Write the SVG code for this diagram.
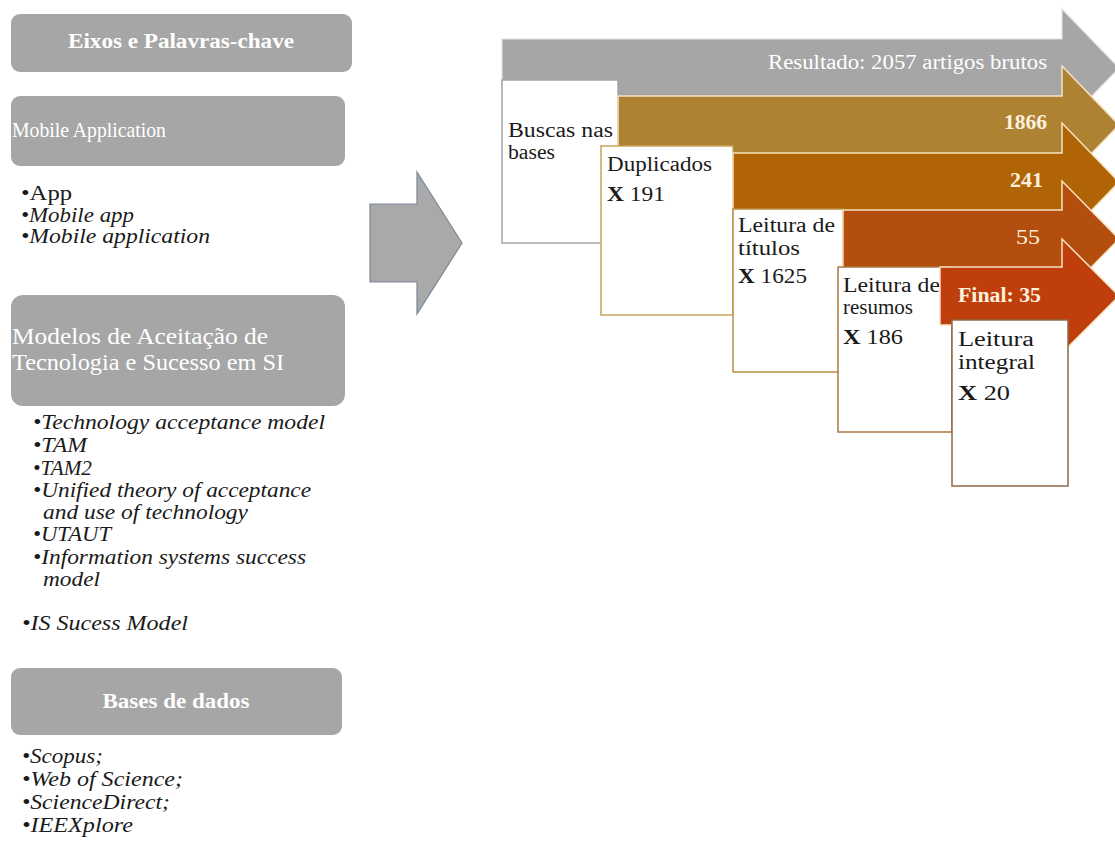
<svg xmlns="http://www.w3.org/2000/svg" width="1115" height="847" viewBox="0 0 1115 847">
  <style>
    .t { font-family: "Liberation Serif", "Times New Roman", serif; font-size: 20.5px; fill: #1a1a1a; }
    .i { font-style: italic; }
    .b { font-weight: bold; }
    .w { fill: #ffffff; }
    .c { fill: #fdf0dc; }
    .hdr { fill: #a6a6a6; }
    .card { fill: #ffffff; stroke-width: 1.5; }
    .band { stroke: #f6e2c0; stroke-width: 1.5; }
  </style>

  <rect width="1115" height="847" fill="#ffffff"/>

  <!-- left column: axes and keywords -->
  <g id="node-eixos">
    <rect class="hdr" x="11" y="14" width="341" height="58" rx="9"/>
    <text class="t b w" x="181" y="48" text-anchor="middle" textLength="226" lengthAdjust="spacingAndGlyphs">Eixos e Palavras-chave</text>
  </g>

  <g id="node-mobile">
    <rect class="hdr" x="11" y="96" width="334" height="70" rx="9"/>
    <text class="t w" x="12" y="137" style="font-size:21.5px" textLength="154" lengthAdjust="spacingAndGlyphs">Mobile Application</text>
  </g>
  <g id="list-mobile">
    <text class="t" x="21" y="200" textLength="51" lengthAdjust="spacingAndGlyphs">•App</text>
    <text class="t i" x="21" y="221.5" textLength="113" lengthAdjust="spacingAndGlyphs">•Mobile app</text>
    <text class="t i" x="21" y="243" textLength="189" lengthAdjust="spacingAndGlyphs">•Mobile application</text>
  </g>

  <g id="node-modelos">
    <rect class="hdr" x="11" y="295" width="334" height="111" rx="12"/>
    <text class="t w" x="12" y="344" style="font-size:23px" textLength="256" lengthAdjust="spacingAndGlyphs">Modelos de Aceitação de</text>
    <text class="t w" x="12" y="370" style="font-size:23px" textLength="272" lengthAdjust="spacingAndGlyphs">Tecnologia e Sucesso em SI</text>
  </g>
  <g id="list-modelos">
    <text class="t i" x="33" y="429" textLength="292" lengthAdjust="spacingAndGlyphs">•Technology acceptance model</text>
    <text class="t i" x="33" y="452" textLength="54" lengthAdjust="spacingAndGlyphs">•TAM</text>
    <text class="t i" x="33" y="474.5" textLength="59" lengthAdjust="spacingAndGlyphs">•TAM2</text>
    <text class="t i" x="33" y="497" textLength="278" lengthAdjust="spacingAndGlyphs">•Unified theory of acceptance</text>
    <text class="t i" x="43" y="519" textLength="205" lengthAdjust="spacingAndGlyphs">and use of technology</text>
    <text class="t i" x="33" y="541" textLength="78" lengthAdjust="spacingAndGlyphs">•UTAUT</text>
    <text class="t i" x="33" y="563.5" textLength="273" lengthAdjust="spacingAndGlyphs">•Information systems success</text>
    <text class="t i" x="43" y="586" textLength="57" lengthAdjust="spacingAndGlyphs">model</text>
    <text class="t i" x="22" y="630" textLength="166" lengthAdjust="spacingAndGlyphs">•IS Sucess Model</text>
  </g>

  <g id="node-bases">
    <rect class="hdr" x="11" y="668" width="331" height="67" rx="9"/>
    <text class="t b w" x="176" y="708" text-anchor="middle" textLength="147" lengthAdjust="spacingAndGlyphs">Bases de dados</text>
  </g>
  <g id="list-bases">
    <text class="t i" x="22" y="763" textLength="81" lengthAdjust="spacingAndGlyphs">•Scopus;</text>
    <text class="t i" x="22" y="786" textLength="161" lengthAdjust="spacingAndGlyphs">•Web of Science;</text>
    <text class="t i" x="22" y="809" textLength="148" lengthAdjust="spacingAndGlyphs">•ScienceDirect;</text>
    <text class="t i" x="22" y="832" textLength="111" lengthAdjust="spacingAndGlyphs">•IEEXplore</text>
  </g>

  <!-- link between the two panels -->
  <g id="connectors">
    <path d="M370 204 H417 V172 L462 243 L417 314 V282 H370 Z" fill="#a9a9a9" stroke="#7a8796" stroke-width="1.2"/>
  </g>

  <!-- right panel: staggered screening process -->
  <g id="stage-resultado">
    <path d="M502 39 H1062 V9 L1119 68 L1062 127 V97 H502 Z" fill="#a6a6a6" stroke="#e2e2e2" stroke-width="1.2"/>
    <text class="t w" x="1047" y="69" text-anchor="end" textLength="279" lengthAdjust="spacingAndGlyphs">Resultado: 2057 artigos brutos</text>
  </g>
  <g id="stage-buscas">
    <rect class="card" x="502" y="80" width="116" height="163" stroke="#a6a6a6"/>
    <text class="t" x="508" y="137" textLength="105" lengthAdjust="spacingAndGlyphs">Buscas nas</text>
    <text class="t" x="508" y="159" textLength="47" lengthAdjust="spacingAndGlyphs">bases</text>
  </g>

  <g id="stage-1866">
    <path class="band" d="M618 96 H1062 V66 L1119 125 L1062 184 V154 H618 Z" fill="#ae8233"/>
    <text class="t b c" x="1047" y="129" text-anchor="end" textLength="43" lengthAdjust="spacingAndGlyphs">1866</text>
  </g>
  <g id="stage-duplicados">
    <rect class="card" x="601" y="146" width="132" height="169" stroke="#c9a45c"/>
    <text class="t" x="607" y="171" textLength="105" lengthAdjust="spacingAndGlyphs">Duplicados</text>
    <text class="t" x="607" y="201" textLength="58" lengthAdjust="spacingAndGlyphs"><tspan class="b">X</tspan> 191</text>
  </g>

  <g id="stage-241">
    <path class="band" d="M733 153 H1062 V123 L1119 182 L1062 241 V211 H733 Z" fill="#b06405"/>
    <text class="t b c" x="1043" y="187" text-anchor="end" textLength="33" lengthAdjust="spacingAndGlyphs">241</text>
  </g>
  <g id="stage-titulos">
    <rect class="card" x="733" y="209" width="110" height="163" stroke="#bb8e44"/>
    <text class="t" x="738" y="232" textLength="97" lengthAdjust="spacingAndGlyphs">Leitura de</text>
    <text class="t" x="738" y="255" textLength="62" lengthAdjust="spacingAndGlyphs">títulos</text>
    <text class="t" x="738" y="283" textLength="69" lengthAdjust="spacingAndGlyphs"><tspan class="b">X</tspan> 1625</text>
  </g>

  <g id="stage-55">
    <path class="band" d="M843 210 H1062 V181 L1119 239 L1062 297 V268 H843 Z" fill="#b44e0e"/>
    <text class="t c" x="1040" y="244" text-anchor="end" textLength="24" lengthAdjust="spacingAndGlyphs">55</text>
  </g>
  <g id="stage-resumos">
    <rect class="card" x="838" y="267" width="114" height="165" stroke="#a97a44"/>
    <text class="t" x="843" y="292" textLength="97" lengthAdjust="spacingAndGlyphs">Leitura de</text>
    <text class="t" x="843" y="314" textLength="70" lengthAdjust="spacingAndGlyphs">resumos</text>
    <text class="t" x="843" y="344" textLength="60" lengthAdjust="spacingAndGlyphs"><tspan class="b">X</tspan> 186</text>
  </g>

  <g id="stage-final">
    <path class="band" d="M940 267 H1062 V239 L1119 296 L1062 353 V325 H940 Z" fill="#bf3f0c"/>
    <text class="t b c" x="958" y="302" textLength="83" lengthAdjust="spacingAndGlyphs">Final: 35</text>
  </g>
  <g id="stage-integral">
    <rect class="card" x="952" y="320" width="116" height="166" stroke="#8c6a44"/>
    <text class="t" x="958" y="346" textLength="76" lengthAdjust="spacingAndGlyphs">Leitura</text>
    <text class="t" x="958" y="369" textLength="77" lengthAdjust="spacingAndGlyphs">integral</text>
    <text class="t" x="958" y="400" textLength="52" lengthAdjust="spacingAndGlyphs"><tspan class="b">X</tspan> 20</text>
  </g>
</svg>
